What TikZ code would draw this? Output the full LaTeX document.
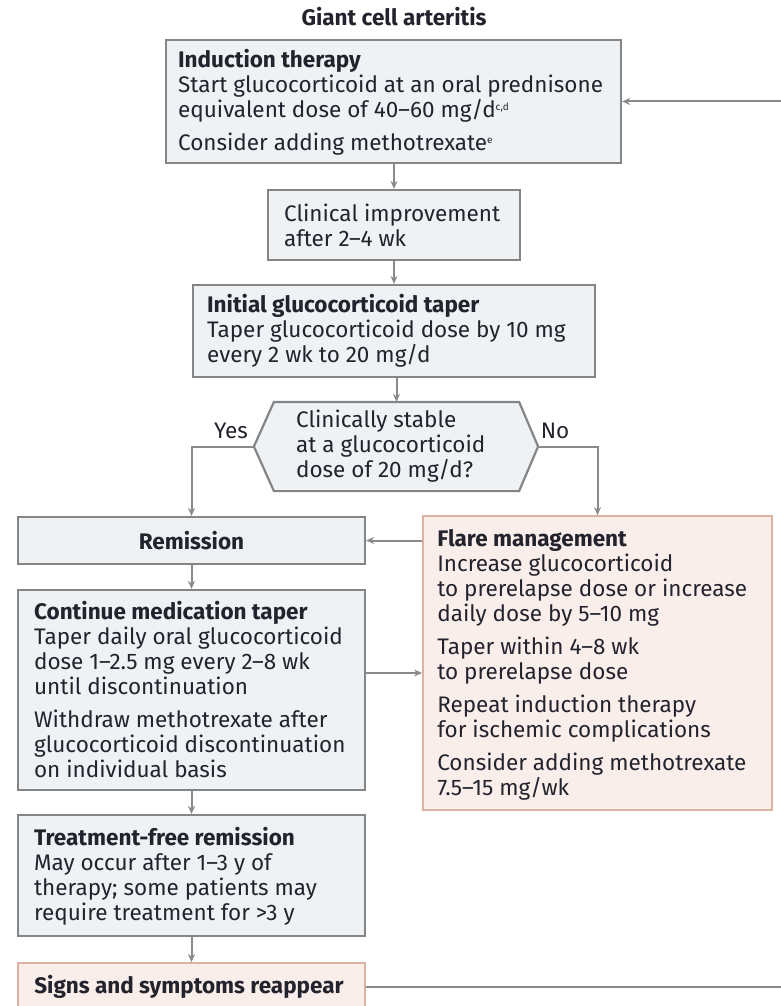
\documentclass[tikz,border=0pt]{standalone}
\usepackage{fontspec}
\setmainfont{Fira Sans}
\usetikzlibrary{arrows.meta,calc}
\definecolor{txt}{HTML}{23232E}
\definecolor{bfill}{HTML}{EEF2F5}
\definecolor{bdraw}{HTML}{858585}
\definecolor{rfill}{HTML}{FAEEEB}
\definecolor{rdraw}{HTML}{DDB2A2}
\definecolor{lcol}{HTML}{8A8A8A}
\newcommand{\tinysup}[1]{\raisebox{7pt}{\fontsize{10}{10}\selectfont #1}}
\tikzset{
  box/.style={draw=bdraw, fill=bfill, line width=2.2pt, anchor=center, inner sep=0pt},
  rbox/.style={box, draw=rdraw, fill=rfill, line width=1.8pt},
  sz/.style 2 args={minimum width=#1pt, minimum height=#2pt},
  txtb/.style={text=txt, align=left, anchor=west, inner sep=0pt,
    font=\fontsize{22.5}{25}\selectfont},
  arr/.style={draw=lcol, line width=2pt, -{Stealth[length=8pt,width=7pt]}},
  lbl/.style={text=txt, font=\fontsize{22.5}{25}\selectfont},
}
\begin{document}
\begin{tikzpicture}[x=1pt,y=-1pt]
\useasboundingbox (0,0) rectangle (781,1006);
\clip (0,0) rectangle (781,1006);
\node[lbl, font=\fontsize{22.5}{25}\selectfont\bfseries] (title) at (394,17) {Giant cell arteritis};
% boxes
\node[box, sz={455}{123}] (induct) at (393.5,101.5) {};
\node[txtb] (inductt) at ([xshift=13pt,yshift=-1pt]induct.west)
  {\textbf{Induction therapy}\\ Start glucocorticoid at an oral prednisone\\ equivalent dose of 40–60 mg/d\tinysup{c,d}\\[8pt] Consider adding methotrexate\tinysup{e}};
\node[box, sz={252}{70}] (clin) at (394,225) {};
\node[txtb] (clint) at ([xshift=17pt]clin.west) {Clinical improvement\\ after 2–4 wk};
\node[box, sz={402}{92}] (init) at (394,331) {};
\node[txtb] (initt) at ([xshift=15pt]init.west)
  {\textbf{Initial glucocorticoid taper}\\ Taper glucocorticoid dose by 10 mg\\ every 2 wk to 20 mg/d};
\node[box, draw=none, fill=none, sz={243}{87}] (hex) at (396.5,446.5) {};
\fill[bfill] (hex.north west) -- (hex.north east) -- ($(hex.east)+(19,0)$) -- (hex.south east) -- (hex.south west) -- ($(hex.west)+(-20,0)$) -- cycle;
\draw[bdraw, line width=2.2pt, line join=miter] (hex.north west) -- (hex.north east) -- ($(hex.east)+(19,0)$) coordinate (hexR) -- (hex.south east) -- (hex.south west) -- ($(hex.west)+(-20,0)$) coordinate (hexL) -- cycle;
\node[txtb] (hext) at ([xshift=22pt]hex.west) {Clinically stable\\ at a glucocorticoid\\ dose of 20 mg/d?};
\node[box, sz={347}{47}] (remission) at (191.5,540.5) {};
\node[lbl, font=\fontsize{22.5}{25}\selectfont\bfseries] (remt) at (remission.center) {Remission};
\node[box, sz={347}{200}] (cont) at (191.5,690) {};
\node[txtb] (contt) at ([xshift=17pt]cont.west)
  {\textbf{Continue medication taper}\\ Taper daily oral glucocorticoid\\ dose 1–2.5 mg every 2–8 wk\\ until discontinuation\\[8pt] Withdraw methotrexate after\\ glucocorticoid discontinuation\\ on individual basis};
\node[rbox, sz={349}{294}] (flare) at (597.5,663) {};
\node[txtb] (flaret) at ([xshift=15pt,yshift=-2pt]flare.west)
  {\textbf{Flare management}\\ Increase glucocorticoid\\ to prerelapse dose or increase\\ daily dose by 5–10 mg\\[8pt] Taper within 4–8 wk\\ to prerelapse dose\\[8pt] Repeat induction therapy\\ for ischemic complications\\[8pt] Consider adding methotrexate\\ 7.5–15 mg/wk};
\node[box, sz={347}{121}] (tfree) at (191.5,875.5) {};
\node[txtb] (tfreet) at ([xshift=17pt,yshift=-1pt]tfree.west)
  {\textbf{Treatment-free remission}\\ May occur after 1–3 y of\\ therapy; some patients may\\ require treatment for >3 y};
\node[rbox, sz={347}{48}] (signs) at (191.5,987) {};
\node[txtb] (signst) at ([xshift=17pt]signs.west) {\textbf{Signs and symptoms reappear}};
\node[lbl] (yes) at (231,431) {Yes};
\node[lbl] (no) at (555,431) {No};
\coordinate (fb) at (820,0);
% connectors
\draw[arr] (clin.north |- induct.south) -- (clin.north);
\draw[arr] (clin.south) -- (init.north);
\draw[arr] (hex.north |- init.south) -- (hex.north);
\draw[arr] (hexL) -| (remission.north);
\draw[arr] (hexR) -| (flare.north);
\draw[arr] (flare.west |- remission.east) -- (remission.east);
\coordinate (c1) at ([yshift=17pt]cont.east);
\draw[arr] (c1) -- (c1 -| flare.west);
\draw[arr] (remission.south) -- (cont.north);
\draw[arr] (cont.south) -- (tfree.north);
\draw[arr] (tfree.south) -- (signs.north);
\draw[arr] (signs.east) -- (signs.east -| fb) -- (fb |- induct.east) -- (induct.east);
\end{tikzpicture}
\end{document}
